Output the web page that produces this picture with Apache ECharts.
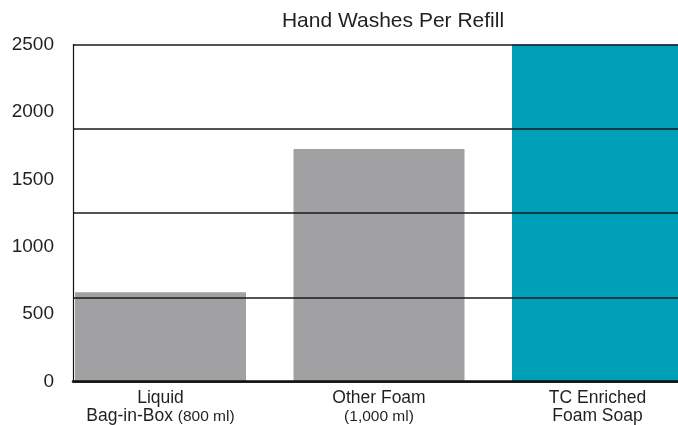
<!DOCTYPE html>
<html>
<head>
<meta charset="utf-8">
<script src="https://cdn.jsdelivr.net/npm/echarts@6/dist/echarts.min.js"></script>
<style>
html,body{margin:0;padding:0;background:#fff;}
#chart{width:678px;height:425px;}
</style>
</head>
<body>
<div id="chart"></div>
<script>
// ---- data ----
const titleText = 'Hand Washes Per Refill';
const categories = ['Liquid\nBag-in-Box (800 ml)', 'Other Foam\n(1,000 ml)', 'TC Enriched\nFoam Soap'];
const washes = [662, 1725, 2500];
const yMin = 0;
const yMax = 2500;
const yLabelStep = 500;
const gridLineStep = 625;

// ---- styles ----
const barColors = ['#a1a1a4', '#a1a1a4', '#009fb8'];
const textColor = '#231f20';
const font = 'Liberation Sans, Arial, Helvetica, sans-serif';

const chart = echarts.init(document.getElementById('chart'));

function fmtCategory(v) {
  return v.split('\n').map(line => {
    const m = line.match(/^(.*?)(\([^)]*\))$/);
    if (m) return '{n|' + m[1] + '}{s|' + m[2] + '}';
    return '{n|' + line + '}';
  }).join('\n');
}

const option = {
  animation: false,
  backgroundColor: '#fff',
  title: {
    text: titleText,
    left: 388,
    textAlign: 'center',
    top: 6,
    textStyle: { fontFamily: font, fontSize: 21, fontWeight: 'normal', color: textColor }
  },
  grid: [
    { left: 73, right: 0, top: 44.5, bottom: 43.5, containLabel: false, outerBoundsMode: 'none' },
    { left: 51.25, right: -28.75, top: 44.5, bottom: 43.5, containLabel: false, outerBoundsMode: 'none' }
  ],
  xAxis: [
    {
      gridIndex: 0, type: 'value', min: 0, max: 1, z: 10,
      axisLine: { show: true, lineStyle: { color: '#111', width: 2.5 } },
      axisTick: { show: false }, axisLabel: { show: false }, splitLine: { show: false }
    },
    {
      gridIndex: 1, type: 'category', data: categories,
      axisLine: { show: false }, axisTick: { show: false }, splitLine: { show: false },
      axisLabel: {
        show: true, interval: 0, margin: 8,
        formatter: fmtCategory,
        rich: {
          n: { fontFamily: font, fontSize: 17.5, color: textColor, lineHeight: 18 },
          s: { fontFamily: font, fontSize: 15.5, color: textColor, lineHeight: 18 }
        }
      }
    }
  ],
  yAxis: [
    {
      gridIndex: 0, type: 'value', min: yMin, max: yMax, interval: yLabelStep, z: 10,
      axisLine: { show: true, lineStyle: { color: '#111', width: 1.2 } },
      axisTick: { show: false },
      axisLabel: { margin: 19, fontFamily: font, fontSize: 19, color: textColor, formatter: v => String(v) },
      splitLine: { show: false }
    },
    {
      gridIndex: 0, type: 'value', min: yMin, max: yMax, interval: gridLineStep, z: 10,
      axisLine: { show: false }, axisTick: { show: false }, axisLabel: { show: false },
      splitLine: { show: true, lineStyle: { color: '#1a1a1a', width: 1.5 } }
    },
    {
      gridIndex: 1, type: 'value', min: yMin, max: yMax, show: false,
      splitLine: { show: false }
    }
  ],
  series: [
    {
      type: 'bar',
      xAxisIndex: 1,
      yAxisIndex: 2,
      barWidth: 171,
      data: washes.map((v, i) => ({ value: v, itemStyle: { color: barColors[i] } }))
    }
  ]
};
chart.setOption(option);
</script>
</body>
</html>
